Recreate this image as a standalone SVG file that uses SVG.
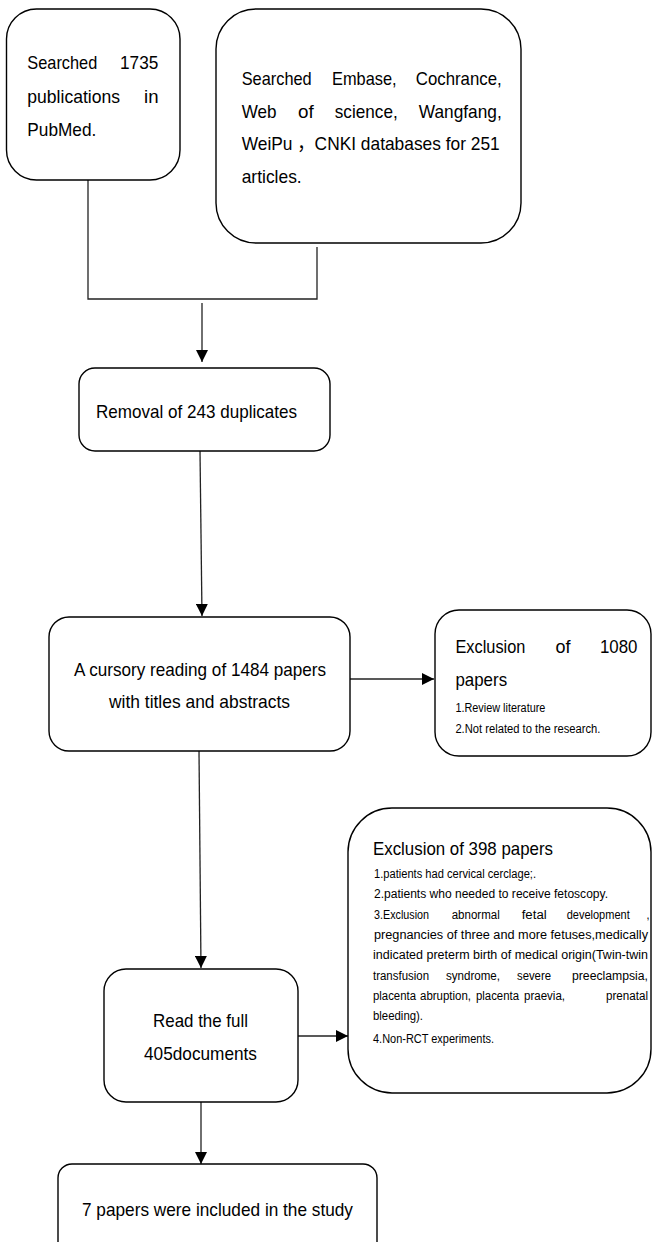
<svg xmlns="http://www.w3.org/2000/svg" width="652" height="1242" viewBox="0 0 652 1242">
<style>
.box{fill:#fff;stroke:#000;stroke-width:1.4}
.t{font-family:"Liberation Sans",Arial,"Noto Sans CJK SC",sans-serif;font-size:19px;fill:#000}
.s{font-family:"Liberation Sans",Arial,sans-serif;font-size:12px;fill:#000}
.c{fill:none;stroke:#222;stroke-width:1.3}
</style>
<defs>
<marker id="arr" markerUnits="userSpaceOnUse" markerWidth="12" markerHeight="12" viewBox="0 0 12 12" refX="12" refY="6" orient="auto">
<path d="M0,0 L12,6 L0,12 z" fill="#000"/>
</marker>
</defs>
<rect width="652" height="1242" fill="#fff"/>
<g id="connectors">
<path class="c" d="M88,180 V299 H317 V247"/>
<path class="c" d="M202,303 V362" marker-end="url(#arr)"/>
<path class="c" d="M200,451 L202,616" marker-end="url(#arr)"/>
<path class="c" d="M350,679 H434" marker-end="url(#arr)"/>
<path class="c" d="M199,751 L201,968" marker-end="url(#arr)"/>
<path class="c" d="M298,1036 H348" marker-end="url(#arr)"/>
<path class="c" d="M201,1102 V1164" marker-end="url(#arr)"/>
</g>
<g id="pubmed">
<rect class="box" x="6.5" y="9" width="173.5" height="171" rx="30"/>
<text class="t" y="69"><tspan x="27.3" textLength="70" lengthAdjust="spacingAndGlyphs">Searched</tspan><tspan x="120" textLength="38.3" lengthAdjust="spacingAndGlyphs">1735</tspan></text>
<text class="t" y="102.5"><tspan x="27.3" textLength="92.7" lengthAdjust="spacingAndGlyphs">publications</tspan><tspan x="144" textLength="14.5" lengthAdjust="spacingAndGlyphs">in</tspan></text>
<text class="t" x="27.3" y="136" textLength="69" lengthAdjust="spacingAndGlyphs">PubMed.</text>
</g>
<g id="databases">
<rect class="box" x="216" y="9" width="305" height="234" rx="40"/>
<text class="t" y="85"><tspan x="241.7" textLength="70" lengthAdjust="spacingAndGlyphs">Searched</tspan><tspan x="332" textLength="64.6" lengthAdjust="spacingAndGlyphs">Embase,</tspan><tspan x="415.8" textLength="85.9" lengthAdjust="spacingAndGlyphs">Cochrance,</tspan></text>
<text class="t" y="117.5"><tspan x="241.7" textLength="34.8" lengthAdjust="spacingAndGlyphs">Web</tspan><tspan x="298" textLength="15.7" lengthAdjust="spacingAndGlyphs">of</tspan><tspan x="334.8" textLength="62.9" lengthAdjust="spacingAndGlyphs">science,</tspan><tspan x="418.8" textLength="82.9" lengthAdjust="spacingAndGlyphs">Wangfang,</tspan></text>
<text class="t" x="241.7" y="150" textLength="258" lengthAdjust="spacingAndGlyphs">WeiPu ，CNKI databases for 251</text>
<text class="t" x="241.7" y="183" textLength="60" lengthAdjust="spacingAndGlyphs">articles.</text>
</g>
<g id="removal">
<rect class="box" x="79" y="368" width="251" height="83" rx="16"/>
<text class="t" x="96" y="418" textLength="201" lengthAdjust="spacingAndGlyphs">Removal of 243 duplicates</text>
</g>
<g id="cursory">
<rect class="box" x="49" y="617" width="301" height="134" rx="20"/>
<text class="t" x="74" y="676" textLength="252" lengthAdjust="spacingAndGlyphs">A cursory reading of 1484 papers</text>
<text class="t" x="109" y="708" textLength="181" lengthAdjust="spacingAndGlyphs">with titles and abstracts</text>
</g>
<g id="exclusion1080">
<rect class="box" x="435" y="610" width="216" height="146" rx="24"/>
<text class="t" y="653"><tspan x="455.4" textLength="70" lengthAdjust="spacingAndGlyphs">Exclusion</tspan><tspan x="555.4" textLength="15" lengthAdjust="spacingAndGlyphs">of</tspan><tspan x="600" textLength="37.5" lengthAdjust="spacingAndGlyphs">1080</tspan></text>
<text class="t" x="455.4" y="685.5" textLength="51.7" lengthAdjust="spacingAndGlyphs">papers</text>
<text class="s" x="455.4" y="711.7" textLength="90" lengthAdjust="spacingAndGlyphs">1.Review literature</text>
<text class="s" x="455.4" y="732.7" textLength="145" lengthAdjust="spacingAndGlyphs">2.Not related to the research.</text>
</g>
<g id="exclusion398">
<rect class="box" x="348" y="808" width="303" height="285" rx="44"/>
<text class="t" x="373" y="855" textLength="180" lengthAdjust="spacingAndGlyphs">Exclusion of 398 papers</text>
<text class="s" x="374" y="878.3" textLength="162" lengthAdjust="spacingAndGlyphs">1.patients had cervical cerclage;.</text>
<text class="s" x="374" y="898" textLength="234" lengthAdjust="spacingAndGlyphs">2.patients who needed to receive fetoscopy.</text>
<text class="s" y="919"><tspan x="374" textLength="55" lengthAdjust="spacingAndGlyphs">3.Exclusion</tspan><tspan x="451.7" textLength="48" lengthAdjust="spacingAndGlyphs">abnormal</tspan><tspan x="521.7" textLength="25" lengthAdjust="spacingAndGlyphs">fetal</tspan><tspan x="566.7" textLength="63" lengthAdjust="spacingAndGlyphs">development</tspan><tspan x="646.5" textLength="3" lengthAdjust="spacingAndGlyphs">,</tspan></text>
<text class="s" x="374" y="938.7" textLength="274" lengthAdjust="spacingAndGlyphs">pregnancies of three and more fetuses,medically</text>
<text class="s" x="373" y="958.5" textLength="275" lengthAdjust="spacingAndGlyphs">indicated preterm birth of medical origin(Twin-twin</text>
<text class="s" y="979.5"><tspan x="373" textLength="56" lengthAdjust="spacingAndGlyphs">transfusion</tspan><tspan x="446" textLength="54" lengthAdjust="spacingAndGlyphs">syndrome,</tspan><tspan x="517" textLength="34" lengthAdjust="spacingAndGlyphs">severe</tspan><tspan x="572" textLength="76" lengthAdjust="spacingAndGlyphs">preeclampsia,</tspan></text>
<text class="s" y="1000"><tspan x="373" textLength="43" lengthAdjust="spacingAndGlyphs">placenta</tspan><tspan x="420" textLength="51" lengthAdjust="spacingAndGlyphs">abruption,</tspan><tspan x="476" textLength="43" lengthAdjust="spacingAndGlyphs">placenta</tspan><tspan x="524" textLength="41" lengthAdjust="spacingAndGlyphs">praevia,</tspan><tspan x="606" textLength="42" lengthAdjust="spacingAndGlyphs">prenatal</tspan></text>
<text class="s" x="373" y="1020" textLength="50" lengthAdjust="spacingAndGlyphs">bleeding).</text>
<text class="s" x="373" y="1043" textLength="121" lengthAdjust="spacingAndGlyphs">4.Non-RCT experiments.</text>
</g>
<g id="fulltext">
<rect class="box" x="104" y="969" width="194" height="133" rx="22"/>
<text class="t" x="153" y="1027" textLength="95" lengthAdjust="spacingAndGlyphs">Read the full</text>
<text class="t" x="144" y="1060" textLength="113" lengthAdjust="spacingAndGlyphs">405documents</text>
</g>
<g id="included">
<rect class="box" x="58" y="1164" width="319" height="92" rx="14"/>
<text class="t" x="82" y="1216" textLength="271" lengthAdjust="spacingAndGlyphs">7 papers were included in the study</text>
</g>
</svg>
